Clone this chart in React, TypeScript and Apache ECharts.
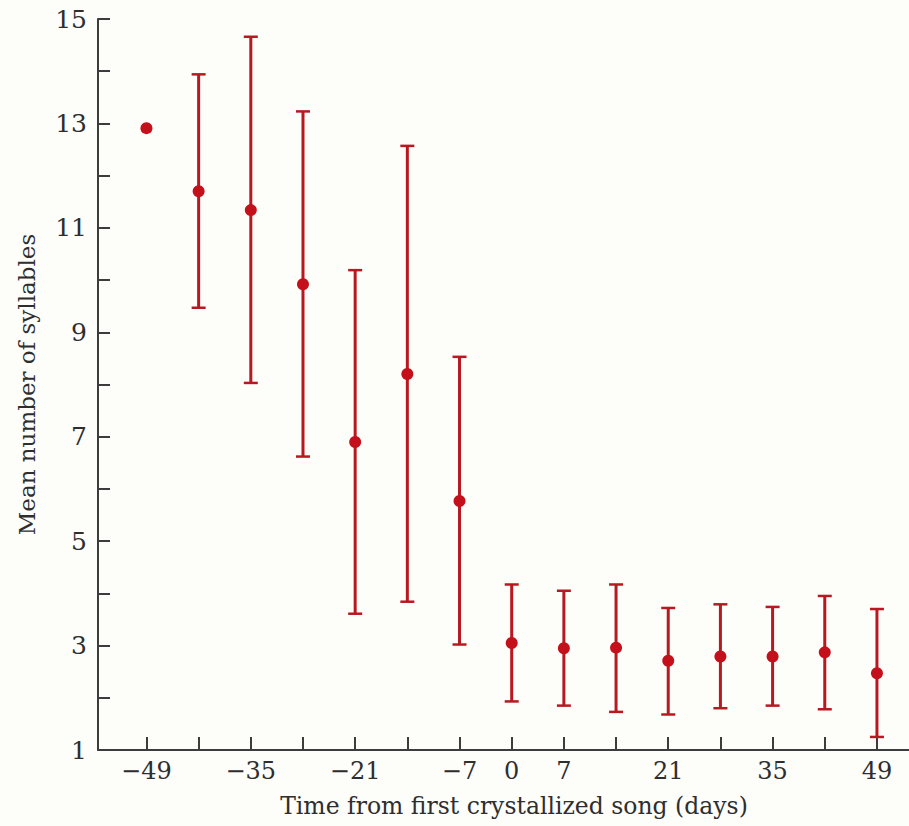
import React, { useEffect, useRef } from "react";
import * as echarts from "echarts";

const days = [-49, -42, -35, -28, -21, -14, -7, 0, 7, 14, 21, 28, 35, 42, 49];
const means = [12.91, 11.7, 11.34, 9.92, 6.9, 8.2, 5.77, 3.05, 2.95, 2.96, 2.71, 2.79, 2.79, 2.87, 2.47];
const upper = [null, 13.94, 14.66, 13.23, 10.19, 12.57, 8.53, 4.17, 4.05, 4.17, 3.72, 3.79, 3.74, 3.95, 3.7];
const lower = [null, 9.47, 8.03, 6.62, 3.61, 3.84, 3.02, 1.93, 1.85, 1.73, 1.68, 1.8, 1.85, 1.78, 1.25];
const xLabelValues = [-49, -35, -21, -7, 0, 7, 21, 35, 49];
const yLabelValues = [1, 3, 5, 7, 9, 11, 13, 15];

const RED = "#c4101a";
const BAR = "#b81820";
const AXIS = "#3c3c3c";
const TEXT = "#2e2e2e";
const FONT = "DejaVu Serif";

export default function App() {
  const ref = useRef<HTMLDivElement>(null);
  useEffect(() => {
    if (!ref.current) return;
    const chart = echarts.init(ref.current, null, { renderer: "svg" });
    const errData = days
      .map((d, i) => [d, lower[i], upper[i]])
      .filter((r) => r[1] !== null && r[2] !== null);
    const fmt = (v: number) => (v < 0 ? "\u2212" + Math.abs(v) : String(v));
    chart.setOption({
      animation: false,
      backgroundColor: "#fdfdfa",
      grid: { left: 98, right: 0, top: 19, bottom: 76 },
      xAxis: {
        type: "value",
        min: -55.5,
        max: 53.3,
        splitLine: { show: false },
        axisLine: { onZero: false, lineStyle: { color: AXIS, width: 2 } },
        axisTick: { inside: true, length: 13, customValues: days, lineStyle: { color: AXIS, width: 2 } },
        axisLabel: {
          customValues: xLabelValues,
          formatter: fmt,
          color: TEXT,
          fontFamily: FONT,
          fontSize: 24,
          margin: 9,
        },
      },
      yAxis: {
        type: "value",
        min: 1,
        max: 15,
        interval: 1,
        splitLine: { show: false },
        axisLine: { onZero: false, lineStyle: { color: AXIS, width: 2 } },
        axisTick: { inside: true, length: 12, lineStyle: { color: AXIS, width: 2 } },
        axisLabel: {
          customValues: yLabelValues,
          color: TEXT,
          fontFamily: FONT,
          fontSize: 25,
          margin: 11,
        },
        name: "Mean number of syllables",
        nameLocation: "middle",
        nameRotate: 90,
        nameGap: 60,
        nameTextStyle: { color: TEXT, fontFamily: FONT, fontSize: 23 },
      },
      graphic: [
        {
          type: "text",
          x: 514,
          y: 806,
          style: {
            text: "Time from first crystallized song (days)",
            fill: TEXT,
            font: `23.5px "${FONT}"`,
            align: "center",
            verticalAlign: "middle",
          },
        },
      ],
      series: [
        {
          type: "custom",
          data: errData,
          encode: { x: 0, y: [1, 2] },
          renderItem: (params: any, api: any) => {
            const x = api.value(0);
            const lo = api.value(1);
            const hi = api.value(2);
            const top = api.coord([x, hi]);
            const bot = api.coord([x, lo]);
            const hw = 7;
            const st = { stroke: BAR, lineWidth: 3 };
            return {
              type: "group",
              children: [
                { type: "line", shape: { x1: top[0], y1: top[1], x2: bot[0], y2: bot[1] }, style: st },
                { type: "line", shape: { x1: top[0] - hw, y1: top[1], x2: top[0] + hw, y2: top[1] }, style: { stroke: BAR, lineWidth: 2.5 } },
                { type: "line", shape: { x1: bot[0] - hw, y1: bot[1], x2: bot[0] + hw, y2: bot[1] }, style: { stroke: BAR, lineWidth: 2.5 } },
              ],
            };
          },
          z: 2,
        },
        {
          type: "scatter",
          data: days.map((d, i) => [d, means[i]]),
          symbol: "circle",
          symbolSize: 12,
          itemStyle: { color: RED, opacity: 1 },
          z: 3,
        },
      ],
    });
    return () => chart.dispose();
  }, []);
  return <div ref={ref} style={{ position: "absolute", left: 0, top: 0, width: 909, height: 826 }} />;
}
